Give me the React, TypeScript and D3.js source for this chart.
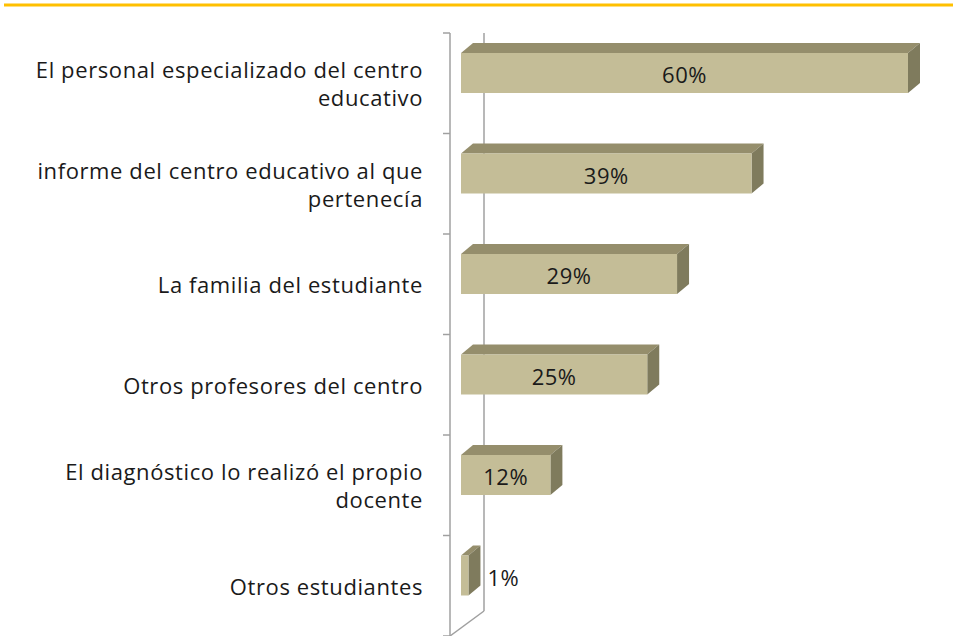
import React from "react";
import * as d3 from "d3";

const categories = [
  ["El personal especializado del centro", "educativo"],
  ["informe del centro educativo al que", "pertenecía"],
  ["La familia del estudiante"],
  ["Otros profesores del centro"],
  ["El diagnóstico lo realizó el propio", "docente"],
  ["Otros estudiantes"],
];
const values = [60, 39, 29, 25, 12, 1];
const valueLabels = ["60%", "39%", "29%", "25%", "12%", "1%"];

const W = 953;
const H = 636;
const FONT = "'Open Sans', sans-serif";

export default function App() {
  const keys = categories.map((_, i) => String(i));
  const x = d3.scaleLinear().domain([0, 1]).range([461, 468.45]);
  const y = d3.scaleBand().domain(keys).range([33, 636]).paddingInner(0);
  const frontX = 450;
  const backX = 484;
  const bottom = 636;
  const backBottom = 611;
  const dx = 12;
  const dy = 10;
  const barOffset = 20;
  const barH = 40;
  const axisColor = "#a0a0a0";

  return (
    <svg width={W} height={H} style={{ display: "block", position: "absolute", left: 0, top: 0 }}>
      <line x1={4} x2={953} y1={5} y2={5} stroke="#FFC000" strokeWidth={3} />
      <line x1={frontX} x2={frontX} y1={33} y2={bottom} stroke={axisColor} strokeWidth={1.5} />
      <line x1={backX} x2={backX} y1={33} y2={backBottom} stroke={axisColor} strokeWidth={1.5} />
      <line x1={frontX} x2={backX} y1={bottom} y2={backBottom} stroke={axisColor} strokeWidth={1.5} />
      {d3.range(keys.length + 1).map((i) => {
        const yy = 33 + i * y.bandwidth();
        return <line key={i} x1={frontX - 7} x2={frontX} y1={yy} y2={yy} stroke={axisColor} strokeWidth={1.5} />;
      })}
      {keys.map((k, i) => {
        const x0 = x(0);
        const x1 = x(values[i]);
        const top = (y(k) as number) + barOffset;
        const bot = top + barH;
        const w = x1 - x0;
        const inside = w > 40;
        return (
          <g key={k}>
            <polygon
              points={`${x0},${top} ${x0 + dx},${top - dy} ${x1 + dx},${top - dy} ${x1},${top}`}
              fill="#958e6c"
            />
            <polygon
              points={`${x1},${top} ${x1 + dx},${top - dy} ${x1 + dx},${bot - dy} ${x1},${bot}`}
              fill="#7f7b5d"
            />
            <rect x={x0} y={top} width={w} height={barH} fill="#c4bd97" />
            <text
              x={inside ? (x0 + x1) / 2 : x1 + dx + 7}
              y={top + barH / 2 + 1}
              textAnchor={inside ? "middle" : "start"}
              dominantBaseline="central"
              fontFamily={FONT}
              fontSize={22}
              letterSpacing={0.5}
              fill="#1a1a1a"
            >
              {valueLabels[i]}
            </text>
          </g>
        );
      })}
      {keys.map((k, i) => {
        const lines = categories[i];
        const cy = (y(k) as number) + y.bandwidth() / 2;
        const lh = 28;
        return (
          <text key={k} textAnchor="end" fontFamily={FONT} fontSize={22} letterSpacing={0.6} fill="#1a1a1a">
            {lines.map((t, j) => (
              <tspan key={j} x={423} y={cy + (j - (lines.length - 1) / 2) * lh} dominantBaseline="central">
                {t}
              </tspan>
            ))}
          </text>
        );
      })}
    </svg>
  );
}
